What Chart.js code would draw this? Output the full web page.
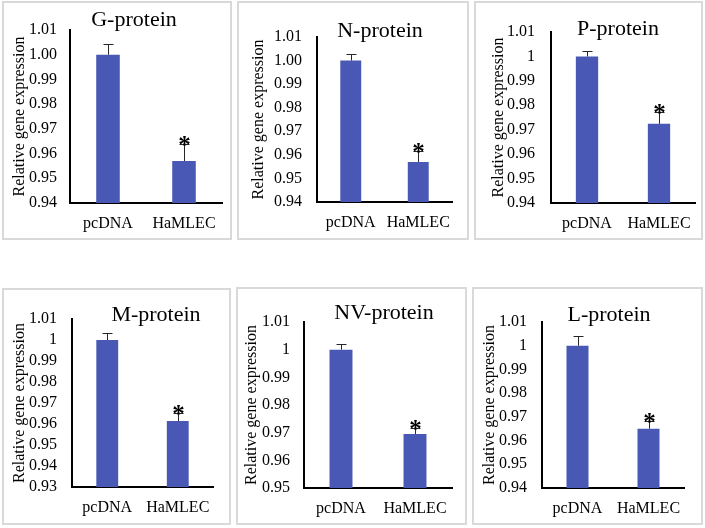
<!DOCTYPE html>
<html lang="en">
<head>
<meta charset="UTF-8">
<title>Relative gene expression</title>
<script src="https://cdn.jsdelivr.net/npm/chart.js@4"></script>
<style>
  body { margin: 0; background: #fff; width: 705px; height: 528px; position: relative; overflow: hidden; }
  .panel { position: absolute; border: 2px solid #d9d9d9; box-sizing: border-box; background: #fff; }
  .panel canvas { position: absolute; left: 0; top: 0; }
  .ttl { position: absolute; font-family: 'Liberation Serif', serif; font-size: 22px; line-height: 1;
         color: #000; transform: translate(-50%, -50%); white-space: nowrap; }
</style>
</head>
<body>
<script>
// data
const groups = ['pcDNA', 'HaMLEC'];
const proteins = ['G-protein', 'N-protein', 'P-protein', 'M-protein', 'NV-protein', 'L-protein'];

const meanG  = [1.000, 0.957];   const errG  = [0.0044, 0.0068];
const meanN  = [1.000, 0.957];   const errN  = [0.0030, 0.0045];
const meanP  = [1.000, 0.9724];  const errP  = [0.0022, 0.0050];
const meanM  = [1.000, 0.9614];  const errM  = [0.0035, 0.0037];
const meanNV = [1.000, 0.9695];  const errNV = [0.0020, 0.0021];
const meanL  = [1.000, 0.965];   const errL  = [0.0042, 0.0034];
const significant = [false, true];

const ticksG  = ['0.94', '0.95', '0.96', '0.97', '0.98', '0.99', '1.00', '1.01'];
const ticksN  = ['0.94', '0.95', '0.96', '0.97', '0.98', '0.99', '1.00', '1.01'];
const ticksP  = ['0.94', '0.95', '0.96', '0.97', '0.98', '0.99', '1', '1.01'];
const ticksM  = ['0.93', '0.94', '0.95', '0.96', '0.97', '0.98', '0.99', '1', '1.01'];
const ticksNV = ['0.95', '0.96', '0.97', '0.98', '0.99', '1', '1.01'];
const ticksL  = ['0.94', '0.95', '0.96', '0.97', '0.98', '0.99', '1', '1.01'];

const series = [
  [meanG, errG, ticksG], [meanN, errN, ticksN], [meanP, errP, ticksP],
  [meanM, errM, ticksM], [meanNV, errNV, ticksNV], [meanL, errL, ticksL]
];

// page layout of the six boxes (pixels)
const panels = [
  {left: 2,   top: 1,   w: 230, h: 239, axisX: 70,  plotTop: 30,  plotBottom: 203, plotRight: 222, titleX: 134, titleY: 18.5, yTitleX: 18,  tickPad: 13},
  {left: 237, top: 1,   w: 232, h: 239, axisX: 317, plotTop: 37,  plotBottom: 202, plotRight: 452, titleX: 380, titleY: 30,   yTitleX: 257, tickPad: 15},
  {left: 474, top: 1,   w: 229, h: 239, axisX: 551, plotTop: 32,  plotBottom: 203, plotRight: 695, titleX: 618, titleY: 28,   yTitleX: 497, tickPad: 16},
  {left: 2,   top: 288, w: 229, h: 237, axisX: 72,  plotTop: 319, plotBottom: 487, plotRight: 213, titleX: 156, titleY: 314,  yTitleX: 18,  tickPad: 15},
  {left: 236, top: 287, w: 231, h: 238, axisX: 304, plotTop: 322, plotBottom: 488, plotRight: 452, titleX: 384, titleY: 312,  yTitleX: 250, tickPad: 14},
  {left: 472, top: 287, w: 231, h: 238, axisX: 542, plotTop: 322, plotBottom: 488, plotRight: 684, titleX: 609, titleY: 313.5, yTitleX: 488, tickPad: 15}
];

Chart.defaults.font.family = "'Liberation Serif', 'Times New Roman', serif";
Chart.defaults.color = '#000';

// error bars (upper side only) plus the significance star
const errorBars = {
  id: 'errorBars',
  afterDatasetsDraw(chart, args, opts) {
    const ctx = chart.ctx;
    const y = chart.scales.y;
    const meta = chart.getDatasetMeta(0);
    ctx.save();
    meta.data.forEach((bar, i) => {
      const v = opts.values[i];
      const top = Math.round(y.getPixelForValue(v + opts.errors[i])) + 0.5;
      const base = y.getPixelForValue(v);
      const x = Math.round(bar.x) + 0.5;
      ctx.strokeStyle = '#262626';
      ctx.lineWidth = 1;
      ctx.beginPath();
      ctx.moveTo(x, base);
      ctx.lineTo(x, top);
      ctx.moveTo(x - 5, top);
      ctx.lineTo(x + 5, top);
      ctx.stroke();
      if (opts.marks[i]) {
        ctx.font = "bold 25px 'Liberation Serif'";
        ctx.fillStyle = '#000';
        ctx.textAlign = 'center';
        ctx.textBaseline = 'alphabetic';
        const m = ctx.measureText('*');
        ctx.fillText('*', x, top + 1 - m.actualBoundingBoxDescent);
      }
    });
    ctx.restore();
  }
};

panels.forEach((p, k) => {
  const [means, errs, tickLabels] = series[k];
  const tickVals = tickLabels.map(Number);

  const box = document.createElement('div');
  box.className = 'panel';
  box.style.left = p.left + 'px';
  box.style.top = p.top + 'px';
  box.style.width = p.w + 'px';
  box.style.height = p.h + 'px';
  document.body.appendChild(box);

  const cl = p.left + 2, ct = p.top + 2, cw = p.w - 4, ch = p.h - 4;
  const canvas = document.createElement('canvas');
  canvas.width = cw;
  canvas.height = ch;
  box.appendChild(canvas);

  const ttl = document.createElement('div');
  ttl.className = 'ttl';
  ttl.textContent = proteins[k];
  ttl.style.left = (p.titleX - cl) + 'px';
  ttl.style.top = (p.titleY - ct) + 'px';
  box.appendChild(ttl);

  new Chart(canvas, {
    type: 'bar',
    data: {
      labels: groups,
      datasets: [{
        data: means,
        backgroundColor: '#4858b4',
        borderWidth: 0,
        barPercentage: 0.31,
        categoryPercentage: 1
      }]
    },
    options: {
      responsive: false,
      animation: false,
      devicePixelRatio: 1,
      layout: { padding: { left: 0, top: p.plotTop - ct, right: cl + cw - p.plotRight, bottom: 0 } },
      plugins: {
        legend: { display: false },
        tooltip: { enabled: false },
        errorBars: { values: means, errors: errs, marks: significant }
      },
      scales: {
        x: {
          grid: { display: false },
          border: { display: true, color: '#000', width: 2 },
          ticks: { font: { size: 16 }, padding: 3, color: '#000', autoSkip: false, maxRotation: 0, minRotation: 0 },
          afterFit: s => { s.height = ct + ch - p.plotBottom; }
        },
        y: {
          min: tickVals[0],
          max: tickVals[tickVals.length - 1],
          grid: { display: false, drawTicks: false },
          border: { display: true, color: '#000', width: 2 },
          afterBuildTicks: s => { s.ticks = tickVals.map(v => ({ value: v })); },
          ticks: {
            font: { size: 16 },
            padding: p.tickPad,
            color: '#000',
            autoSkip: false,
            callback: (v, i) => tickLabels[i]
          },
          title: {
            display: true,
            text: 'Relative gene expression',
            font: { size: 16 },
            color: '#000',
            padding: { top: p.yTitleX - cl - 8, bottom: 0 }
          },
          afterFit: s => { s.width = p.axisX - cl; }
        }
      }
    },
    plugins: [errorBars]
  });
});
</script>
</body>
</html>
